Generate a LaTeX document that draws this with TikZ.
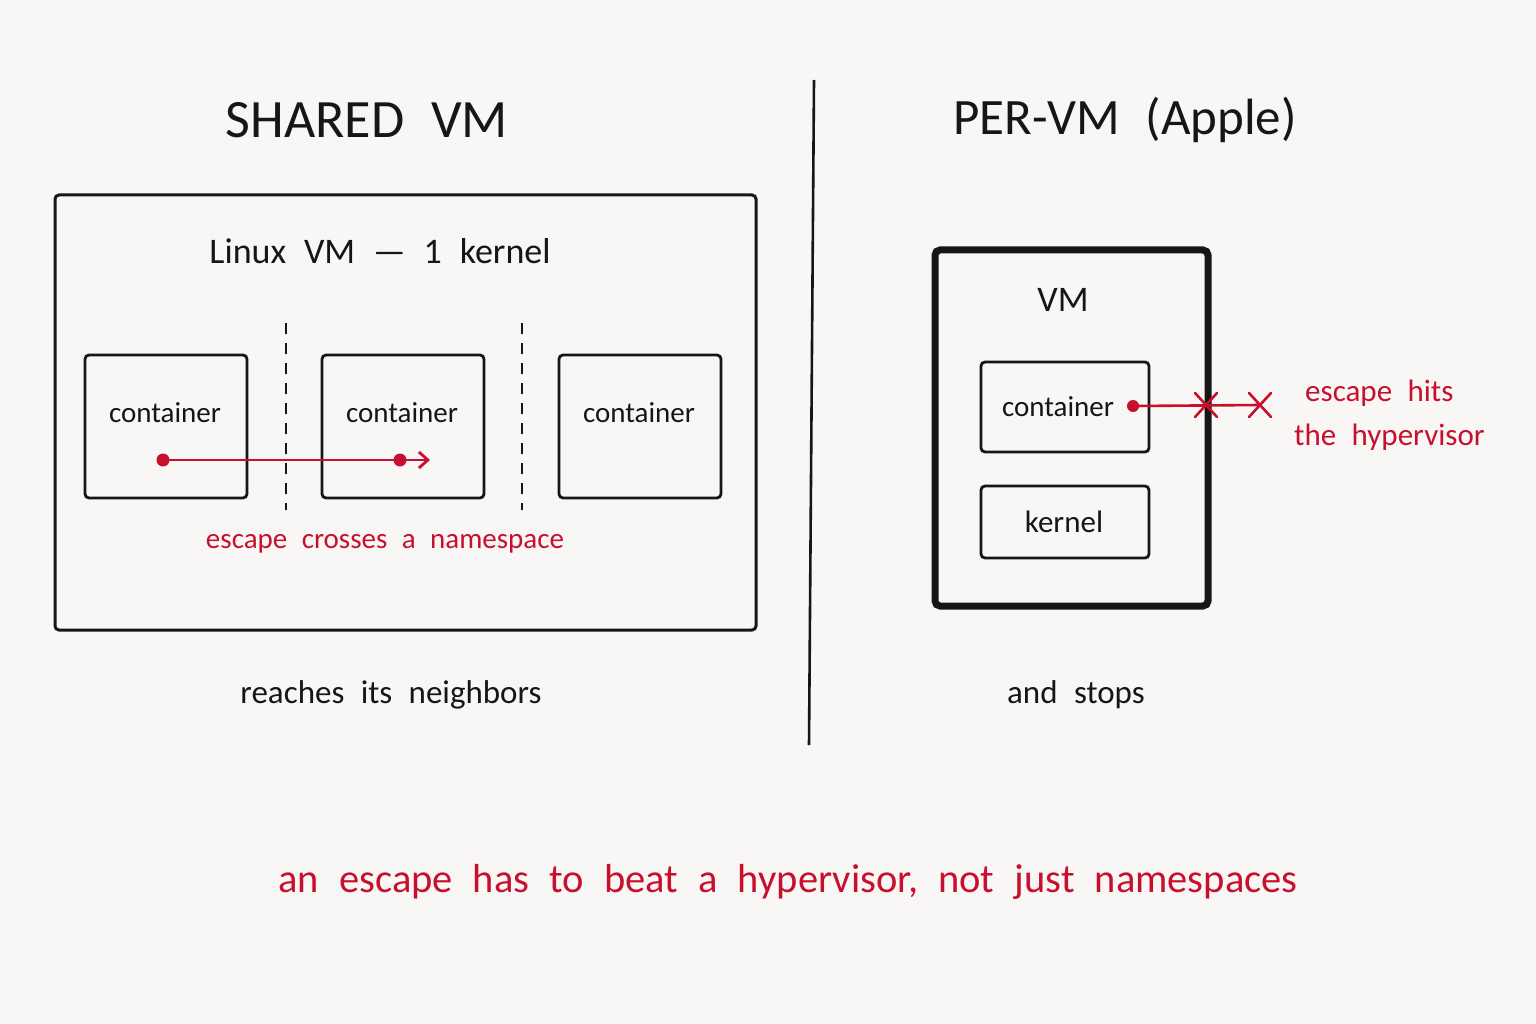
\documentclass[tikz,border=0pt]{standalone}
\usepackage{fontspec}
\setmainfont{Carlito}[WordSpace=2.2]
\usetikzlibrary{arrows.meta}
\definecolor{bg}{RGB}{248,247,245}
\definecolor{esc}{RGB}{200,16,46}
\definecolor{ink}{RGB}{22,22,22}
\begin{document}
\begin{tikzpicture}[x=1pt,y=-1pt,
  box/.style={draw=ink, line width=2.8pt, rounded corners=4pt, inner sep=0pt},
  txt/.style={text=ink, inner sep=0pt, font=\fontsize{29}{32}\selectfont},
  title/.style={text=ink, inner sep=0pt, font=\fontsize{54}{60}\selectfont},
  rtxt/.style={text=esc, inner sep=0pt, font=\fontsize{29}{32}\selectfont},
  dot/.style={circle, fill=esc, inner sep=0pt, minimum size=13pt},
  divider/.style={draw=ink, line width=1.8pt, dash pattern=on 11pt off 9pt},
  escline/.style={draw=esc, line width=2.6pt},
  cross/.style={draw=esc, line width=2.6pt, line cap=round}]
\fill[bg] (0,0) rectangle (1536,1024);
\useasboundingbox (0,0) rectangle (1536,1024);

% separator
\coordinate (septop) at (814,80);
\coordinate (sepbot) at (809,745);
\draw[ink, line width=2.6pt] (septop) -- (sepbot);

% titles
\node[title] (t1) at (367,120) {SHARED VM};
\node[title, font=\fontsize{51}{60}\selectfont] (t2) at (1125,120) {PER-VM (Apple)};

% ---- left: shared VM
\node[box, line width=3pt, minimum width=701pt, minimum height=435pt] (shared) at (405.5,412.5) {};
\node[txt, font=\fontsize{36}{40}\selectfont] (lvm) at (380,251) {Linux VM — 1 kernel};

\node[box, minimum width=162pt, minimum height=143pt] (c1) at (166,426.5) {};
\node[box, minimum width=162pt, minimum height=143pt] (c2) at (403,426.5) {};
\node[box, minimum width=162pt, minimum height=143pt] (c3) at (640,426.5) {};
\node[txt] (c1t) at (165,413) {container};
\node[txt] (c2t) at (402,413) {container};
\node[txt] (c3t) at (639,413) {container};

\coordinate (dv1a) at (286,323);
\coordinate (dv1b) at (286,510);
\coordinate (dv2a) at (522,323);
\coordinate (dv2b) at (522,510);
\draw[divider] (dv1a) -- (dv1b);
\draw[divider] (dv2a) -- (dv2b);

\node[dot] (d1) at (163,460) {};
\node[dot] (d2) at (400,460) {};
\coordinate (a1) at (430,460);
\draw[escline] (d1.center) -- (d2.center);
\draw[escline, line width=2.8pt, -{Straight Barb[length=9pt,width=16pt,line width=2.8pt]}] (d2.center) -- (a1);
\node[rtxt] (esc1) at (385,544) {escape crosses a namespace};
\node[txt, font=\fontsize{33}{36}\selectfont] (reach) at (391,695) {reaches its neighbors};

% ---- right: per-VM
\node[box, line width=7pt, rounded corners=5pt, minimum width=273pt, minimum height=356pt] (vm) at (1071.5,428) {};
\node[txt, font=\fontsize{36}{40}\selectfont] (vmt) at (1063,300) {VM};
\node[box, minimum width=168pt, minimum height=90pt] (rc) at (1065,407) {};
\node[txt] (rct) at (1058,407) {container};
\node[box, minimum width=168pt, minimum height=72pt] (rk) at (1065,522) {};
\node[txt, font=\fontsize{31}{36}\selectfont] (rkt) at (1064,522) {kernel};

\node[dot, minimum size=12pt] (d3) at (1133,406) {};
\coordinate (x1) at (1206,405);
\coordinate (x2) at (1260,405);
\draw[escline] (d3.center) -- (x2);
\draw[cross] ([shift={(-11,-12)}]x1) -- ([shift={(11,12)}]x1);
\draw[cross] ([shift={(-11,12)}]x1) -- ([shift={(11,-12)}]x1);
\draw[cross] ([shift={(-11,-12)}]x2) -- ([shift={(11,12)}]x2);
\draw[cross] ([shift={(-11,12)}]x2) -- ([shift={(11,-12)}]x2);
\node[rtxt, anchor=west, font=\fontsize{31}{34}\selectfont] (h1) at (1305,393) {escape hits};
\node[rtxt, anchor=west, font=\fontsize{31}{34}\selectfont] (h2) at (1294,437) {the hypervisor};

\node[txt, font=\fontsize{33}{36}\selectfont] (stops) at (1076,695) {and stops};

% bottom
\node[rtxt, font=\fontsize{40.5}{48}\selectfont] (bottom) at (788,882) {an escape has to beat a hypervisor, not just namespaces};
\end{tikzpicture}
\end{document}
